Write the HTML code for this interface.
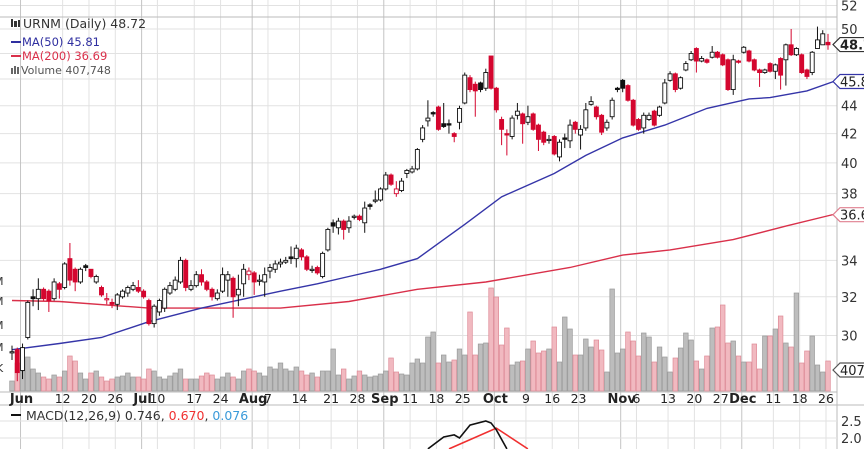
<!DOCTYPE html>
<html><head><meta charset="utf-8"><style>
html,body{margin:0;padding:0;background:#fff;}
svg{display:block;font-family:"DejaVu Sans","Liberation Sans",sans-serif;}
</style></head><body>
<svg id="chart" width="864" height="449" viewBox="0 0 864 449" xmlns="http://www.w3.org/2000/svg">
<g id="grid"></g>
<g id="volume"></g>
<g id="mas"></g>
<g id="candles"></g>
<g id="axes"></g>
<g id="macd"></g>
<g font-size="12">
  <g fill="#333"><rect x="11" y="19" width="2" height="8"/><rect x="14" y="21" width="3" height="6"/><rect x="18" y="20" width="2" height="7"/></g>
  <text x="23" y="28" fill="#333" font-size="12.5">URNM (Daily) 48.72</text>
  <rect x="11" y="41" width="10" height="2" fill="#2f2fa0"/>
  <text x="22" y="46" fill="#2f2fa0" font-size="11.5">MA(50) 45.81</text>
  <rect x="11" y="55" width="10" height="2" fill="#d9304a"/>
  <text x="22" y="60" fill="#d9304a" font-size="11.5">MA(200) 36.69</text>
  <g fill="#666"><rect x="11" y="68" width="2" height="6"/><rect x="14" y="66" width="2" height="8"/><rect x="17" y="67" width="2" height="7"/></g>
  <text x="21" y="74" fill="#555" font-size="11">Volume 407,748</text>
</g>
</svg>
<script>
const opens=[29.2,29.3,28.3,29.9,32.0,31.9,32.4,32.3,31.9,32.7,32.5,34.1,33.5,32.8,33.7,33.5,32.8,32.5,31.9,31.7,31.6,32.0,32.2,32.4,32.5,32.3,31.8,30.6,31.2,31.4,32.2,32.4,32.8,34.0,32.4,32.6,33.2,32.8,32.4,31.9,32.3,32.9,33.0,32.1,32.7,33.2,33.3,32.9,32.8,33.4,33.5,33.8,33.9,34.2,34.1,34.6,34.2,33.5,33.6,33.1,34.6,36.2,35.9,36.3,35.9,36.6,36.6,36.2,37.3,37.6,37.6,38.3,39.2,38.0,38.2,39.3,39.4,39.6,41.6,42.9,43.5,43.9,42.7,42.7,42.0,42.8,44.2,46.1,45.6,45.7,45.3,47.8,45.3,43.0,42.0,41.8,43.3,43.4,42.8,43.4,42.6,42.1,41.6,41.8,40.4,41.7,41.5,42.8,41.9,42.4,44.1,43.9,43.3,42.4,43.2,45.3,45.9,45.5,44.4,43.0,42.4,43.0,43.6,43.3,44.2,45.9,46.4,45.3,46.7,47.5,48.4,47.4,47.5,47.7,48.1,47.9,47.5,45.2,47.4,48.1,48.2,47.5,46.7,46.5,47.2,46.6,47.6,47.5,48.7,47.9,47.9,46.7,46.5,48.4,48.7,48.9,49.5];
const closes=[29.2,28.2,29.4,31.7,31.9,32.4,31.9,31.8,32.8,32.4,33.8,32.9,32.8,33.5,33.6,33.1,33.1,32.1,31.9,31.6,32.1,32.3,32.5,32.6,32.3,32.0,30.6,31.5,31.8,32.4,32.6,32.9,34.0,32.5,32.6,33.2,32.8,32.4,32.0,32.2,33.2,33.2,32.0,32.4,33.5,33.4,32.8,32.9,33.2,33.6,33.8,33.9,34.0,34.1,34.7,34.2,33.5,33.5,33.3,34.4,35.8,36.0,36.3,35.8,36.3,36.6,36.4,37.1,37.2,37.6,38.3,39.2,38.6,38.3,38.8,39.5,39.6,40.9,42.4,43.1,43.4,42.3,42.5,42.6,41.8,43.8,46.3,45.2,45.1,45.2,46.5,45.3,43.7,42.3,41.9,43.1,43.6,42.7,43.2,42.3,41.6,41.4,41.6,40.6,41.4,41.6,42.6,42.3,42.3,43.7,44.3,43.2,42.1,42.8,44.4,45.2,45.3,44.4,42.6,42.3,43.3,43.3,42.6,43.9,45.7,46.4,45.2,46.1,47.2,48.0,47.4,47.6,47.3,48.1,47.7,47.1,45.2,47.5,47.3,48.5,47.4,46.7,46.5,46.7,46.6,47.1,46.3,48.7,47.9,48.4,46.5,46.2,48.1,49.1,49.6,48.7];
const highs=[29.5,29.4,29.6,31.8,32.4,33.0,32.5,32.4,33.0,32.8,33.9,35.0,33.6,33.6,33.8,33.5,33.2,32.6,32.2,31.9,32.2,32.4,32.6,32.8,32.9,32.4,31.9,31.6,31.9,32.5,32.8,33.1,34.2,34.1,32.9,33.4,33.5,32.9,32.5,32.4,33.6,33.4,33.1,33.2,33.8,33.6,33.4,33.2,33.6,33.8,34.0,34.1,34.2,34.8,34.9,34.7,34.3,33.7,33.7,34.5,35.9,36.4,36.5,36.4,36.6,36.7,36.7,37.5,37.4,38.2,38.4,39.4,39.3,38.8,39.0,39.6,39.8,41.0,42.6,44.4,43.6,44.0,44.2,43.0,42.1,44.0,46.5,46.3,45.8,45.8,46.8,47.8,45.4,43.2,42.3,43.3,44.2,43.5,44.0,43.5,42.7,42.2,41.9,41.9,41.6,42.0,43.0,42.9,42.6,44.2,44.7,44.0,43.4,43.0,44.6,45.4,46.0,45.6,44.5,43.1,43.5,43.5,43.7,44.0,46.0,46.6,46.5,46.2,47.4,48.2,48.5,47.8,47.6,48.6,48.2,48.0,47.6,47.9,47.5,48.6,48.3,47.6,46.8,46.8,47.3,47.2,47.7,48.8,50.0,48.5,48.0,46.8,48.2,50.2,49.9,49.6];
const lows=[28.8,27.8,27.9,29.8,31.5,31.3,31.8,31.2,31.8,31.9,32.4,32.6,32.3,32.7,33.4,33.0,32.7,32.0,31.6,31.4,31.3,31.9,32.0,32.3,32.2,31.9,30.5,30.4,31.0,31.2,32.1,32.3,32.7,32.3,32.3,32.5,32.6,32.3,31.8,31.8,32.2,32.0,30.9,31.5,32.0,32.9,32.1,32.6,32.0,33.0,33.3,33.6,33.8,33.8,33.6,34.0,33.4,33.3,33.2,33.0,34.5,35.6,35.5,35.2,35.6,36.4,36.3,35.6,37.0,37.4,37.5,38.2,38.5,37.8,38.1,39.0,39.3,39.5,41.4,42.5,43.2,42.2,42.4,42.0,41.4,42.3,44.1,45.0,43.2,45.0,45.1,45.2,43.5,41.2,40.5,41.6,43.0,41.3,42.6,42.2,40.8,41.2,41.3,40.5,40.1,41.0,41.0,42.0,40.9,42.2,44.0,43.0,41.9,42.2,43.0,45.0,45.0,44.3,42.5,42.2,42.0,42.9,42.5,43.2,44.1,45.8,45.0,45.2,46.6,47.4,46.5,47.3,47.2,47.6,47.6,47.0,45.1,44.8,47.2,48.0,47.3,46.6,45.4,46.4,46.5,46.0,45.2,45.5,47.8,47.8,46.4,46.0,46.3,48.6,48.8,48.3];
const volumes=[200,560,400,680,440,360,280,240,320,280,400,700,600,360,240,360,400,280,200,240,280,300,360,280,280,240,440,400,280,240,300,360,440,240,240,240,300,360,320,240,280,360,280,240,400,440,400,360,300,480,440,560,440,400,480,400,320,360,280,400,400,840,320,440,240,300,400,320,280,300,340,400,660,380,340,320,560,640,560,1080,1180,560,720,580,620,840,720,1580,720,940,960,2060,1880,920,1260,520,580,600,840,1000,760,800,840,1280,580,1480,1240,720,720,1040,880,1020,820,380,2040,760,840,1180,1000,700,1160,1080,580,880,680,380,660,860,1160,1020,600,440,700,1260,1280,1720,960,1000,700,580,580,940,440,1100,1100,1240,1500,960,880,1960,560,800,1100,520,380,600,408];
const ma50Idx=[0,9,17,26,36,46,51,58,64,70,77,82,86,93,103,109,116,124,132,140,144,151,156];
const ma50Vals=[29.3,29.6,29.9,30.7,31.4,32.0,32.3,32.7,33.1,33.5,34.1,35.2,36.1,37.8,39.3,40.5,41.7,42.6,43.8,44.5,44.6,45.1,45.8];
const ma200Idx=[0,9,26,51,64,77,90,106,116,125,137,147,156];
const ma200Vals=[31.8,31.75,31.4,31.4,31.75,32.4,32.8,33.6,34.3,34.6,35.2,36.0,36.7];
const priceTicks=[30,32,34,36,38,40,42,44,46,48,50,52];
const priceTickLabels=["30","32","34","","38","40","42","44","","","50","52"];
const dateLabels=["Jun","12","20","26","Jul","10","17","24","Aug","7","14","21","28","Sep","11","18","25","Oct","9","16","23","Nov","6","13","20","27","Dec","11","18","26"];
const dateIdx=[2,10,15,20,25,28,35,40,46,49,55,61,66,71,76,81,86,92,98,103,108,116,119,125,130,135,139,145,150,155];
const monthFlags=[1,0,0,0,1,0,0,0,1,0,0,0,0,1,0,0,0,1,0,0,0,1,0,0,0,0,1,0,0,0];
const macdIdx=[79,82,84,85,87,90,91,92,94];
const macdVals=[1.68,2.03,2.09,2.0,2.38,2.5,2.44,2.24,1.68];
const signalIdx=[83,92,98];
const signalVals=[1.68,2.29,1.68];
const macdTicks=[2.0,2.5];

const NS="http://www.w3.org/2000/svg";
const X0=12, X1=828, PR=837;
const n=closes.length;
function xAt(i){return X0+i*(X1-X0)/(n-1);}
function yP(p){return 29+(Math.log(50)-Math.log(p))*600;}
function yV(v){return 391-v/20;}
function yM(m){return 421+(2.5-m)*34;}
function mk(tag,attrs,parent){const e=document.createElementNS(NS,tag);for(const k in attrs)e.setAttribute(k,attrs[k]);parent.appendChild(e);return e;}
const grid=document.getElementById('grid'),vol=document.getElementById('volume'),mas=document.getElementById('mas'),cg=document.getElementById('candles'),ax=document.getElementById('axes'),mg=document.getElementById('macd');

// horizontal grid
priceTicks.forEach((p,k)=>{const y=yP(p);
  const l=mk('line',{x1:0,x2:PR,y1:y,y2:y,stroke:'#e2e2e2','stroke-width':1},grid);
  
  
  if(priceTickLabels[k]){const t=mk('text',{x:841,y:y+5,'font-size':13,fill:'#333'},ax);t.textContent=priceTickLabels[k];
  
  }
});
// vertical grid
dateIdx.forEach((d,k)=>{const x=xAt(d)-2;
  const l=mk('line',{x1:x,x2:x,y1:0,y2:449,stroke:monthFlags[k]?'#c4c4c4':'#e2e2e2','stroke-width':1},grid);
  
  
  const t=mk('text',{x:x+ (monthFlags[k]?1:0),y:403,'font-size':monthFlags[k]?13:12.5,'font-weight':monthFlags[k]?'bold':'normal','text-anchor':'middle',fill:'#222'},ax);
  t.textContent=dateLabels[k];
  
  
});
// borders
[[0,17,PR,17],[PR,0,PR,449],[0,392,PR,392],[0,405,864,405]].forEach(b=>{const l=mk('line',{x1:b[0],y1:b[1],x2:b[2],y2:b[3],stroke:'#bbb','stroke-width':1},grid);
  
  });
[281,301,325,347].forEach(y=>{const t=mk('text',{x:-6,y:y+4,'font-size':11,fill:'#333'},ax);t.textContent='M';
  
  });
{const t=mk('text',{x:-4,y:372,'font-size':11,fill:'#333'},ax);t.textContent='K';
  
  }

// volume
for(let i=0;i<n;i++){const up=i===0||closes[i]>=closes[i-1];const y=yV(volumes[i]);
  const r=mk('rect',{x:xAt(i)-2.3,y:y,width:4.6,height:391-y,fill:up?'#bdbdbd':'#f1b9c0',stroke:up?'#9a9a9a':'#de8a96','stroke-width':0.7},vol);
  
  }

// moving averages
function poly(idx,vals,col,name){const pts=idx.map((d,k)=>xAt(d).toFixed(1)+','+yP(vals[k]).toFixed(1)).join(' ');
  const p=mk('polyline',{points:pts,fill:'none',stroke:col,'stroke-width':1.4},mas);
  
  }
poly(ma200Idx,ma200Vals,'#d9304a','ma200-line');
poly(ma50Idx,ma50Vals,'#3535a8','ma50-line');

// candles
for(let i=0;i<n;i++){const up=i===0||closes[i]>=closes[i-1];const col=up?'#111':'#d4062f';const x=xAt(i);
  const w=mk('line',{x1:x,x2:x,y1:yP(highs[i]),y2:yP(lows[i]),stroke:col,'stroke-width':1},cg);
  
  
  const top=yP(Math.max(opens[i],closes[i])),bot=yP(Math.min(opens[i],closes[i]));
  const hollow=closes[i]>=opens[i];
  const b=mk('rect',{x:x-2,y:top,width:4,height:Math.max(1.2,bot-top),fill:hollow?'#fff':col,stroke:col,'stroke-width':0.9},cg);
  
  }

// value tags
function tag(y,txt,col,bold,name){const g=mk('g',{},ax);
  
  
  mk('path',{d:`M833 ${y} L840 ${y-7} H866 V${y+7} H840 Z`,fill:'#fff',stroke:col,'stroke-width':1.2},g);
  const t=mk('text',{x:840,y:y+5,'font-size':13,'font-weight':bold?'bold':'normal',fill:'#222'},g);t.textContent=txt;}
tag(yP(48.72),'48.72','#333',true,'last-price-tag');
tag(yP(45.81),'45.81','#3535a8',false,'ma50-tag');
tag(yP(36.69),'36.69','#e08090',false,'ma200-tag');
tag(370,'407','#555',false,'volume-tag');

// MACD
macdTicks.forEach(m=>{const y=yM(m);
  const l=mk('line',{x1:0,x2:PR,y1:y,y2:y,stroke:'#e2e2e2'},mg);
  
  
  const t=mk('text',{x:841,y:y+5,'font-size':13,fill:'#333'},mg);t.textContent=m.toFixed(1);
  
  });
function mpoly(idx,vals,col,name){const pts=idx.map((d,k)=>xAt(d).toFixed(1)+','+yM(vals[k]).toFixed(1)).join(' ');
  const p=mk('polyline',{points:pts,fill:'none',stroke:col,'stroke-width':1.6},mg);
  
  }
mpoly(signalIdx,signalVals,'#f03030','macd-signal-line');
mpoly(macdIdx,macdVals,'#111','macd-line');
{const g=mk('g',{},mg);
 
 
 mk('rect',{x:11,y:414,width:10,height:2,fill:'#111'},g);
 const t=mk('text',{x:26,y:420,'font-size':12.5,fill:'#333'},g);
 t.innerHTML='MACD(12,26,9) 0.746, <tspan fill="#f03030">0.670</tspan>, <tspan fill="#3a9ad9">0.076</tspan>';}
</script>
</body></html>
